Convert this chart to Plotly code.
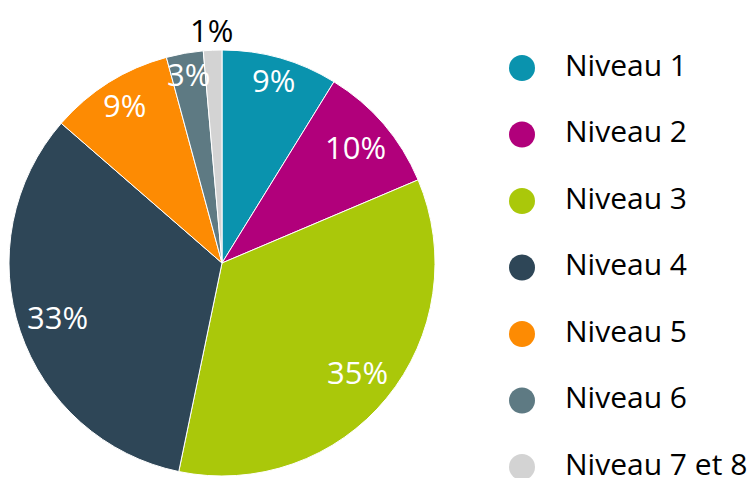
import math
import plotly.graph_objects as go

labels = ["Niveau 1", "Niveau 2", "Niveau 3", "Niveau 4", "Niveau 5", "Niveau 6", "Niveau 7 et 8"]
values = [8.8, 9.8, 34.6, 33.1, 9.4, 2.8, 1.4]
colors = ["#0A93AE", "#B1007B", "#AAC80A", "#2E4657", "#FD8B03", "#5E7A83", "#D3D3D3"]
label_inside = [True, True, True, True, True, True, False]

FONT = "Open Sans, Noto Sans, sans-serif"
# the page body has an 8px margin, so the figure is sized to fill the rest of the window
W, H = 747, 470

# pie geometry (figure pixels)
PIE_X0, PIE_X1 = 1, 427
PIE_Y0, PIE_Y1 = 42, 468          # from top
cx = (PIE_X0 + PIE_X1) / 2
cy = (PIE_Y0 + PIE_Y1) / 2
R = (PIE_X1 - PIE_X0) / 2

LBL_SIZE = 31

fig = go.Figure()
fig.add_trace(go.Pie(
    labels=labels, values=values, sort=False, direction="clockwise", rotation=0,
    marker=dict(colors=colors, line=dict(color="white", width=1)),
    textinfo="none", showlegend=False, hoverinfo="label+percent",
    domain=dict(x=[PIE_X0 / W, PIE_X1 / W], y=[1 - PIE_Y1 / H, 1 - PIE_Y0 / H]),
))

# percentage labels placed at the "inside end" of each slice (computed from the values)
total = sum(values)
cum = 0.0
annotations = []
for v, inside in zip(values, label_inside):
    mid = (cum + v / 2) / total
    cum += v
    theta = 2 * math.pi * mid
    txt = f"{round(v / total * 100)}%"
    w_half = 0.5 * LBL_SIZE * sum(0.83 if ch == "%" else 0.57 for ch in txt)
    h_half = 13
    s, c = math.sin(theta), math.cos(theta)
    d = abs(s) * w_half + abs(c) * h_half + 6
    rl = R - d if inside else R + d
    px = cx + rl * s
    py = cy - rl * c - (2 if inside else 0)
    annotations.append(dict(
        x=px / W, y=1 - py / H, xref="paper", yref="paper",
        text=txt, showarrow=False, xanchor="center", yanchor="middle",
        font=dict(size=LBL_SIZE, color="white" if inside else "black", family=FONT),
    ))

# legend drawn as data-driven markers + labels on a hidden axis
fig.add_trace(go.Scatter(
    x=[0] * len(labels), y=labels, mode="markers",
    marker=dict(size=26, color=colors, symbol="circle"),
    showlegend=False, hoverinfo="skip", xaxis="x", yaxis="y", cliponaxis=False,
))
fig.add_trace(go.Scatter(
    x=[1] * len(labels), y=labels, mode="text", text=labels,
    textposition="middle right",
    textfont=dict(size=30, color="black", family=FONT),
    showlegend=False, hoverinfo="skip", xaxis="x", yaxis="y", cliponaxis=False,
))

ROW0, ROW_STEP = 60, 66.5
fig.update_layout(
    width=W, height=H, margin=dict(l=0, r=0, t=0, b=0),
    paper_bgcolor="white", plot_bgcolor="rgba(0,0,0,0)",
    font=dict(family=FONT),
    annotations=annotations,
    xaxis=dict(domain=[492 / W, 1], range=[-22 / 43, 233 / 43], visible=False, fixedrange=True),
    yaxis=dict(domain=[0, 1], type="category", range=[(H - ROW0) / ROW_STEP, -ROW0 / ROW_STEP],
               visible=False, fixedrange=True),
)

fig.write_html("out.html")
